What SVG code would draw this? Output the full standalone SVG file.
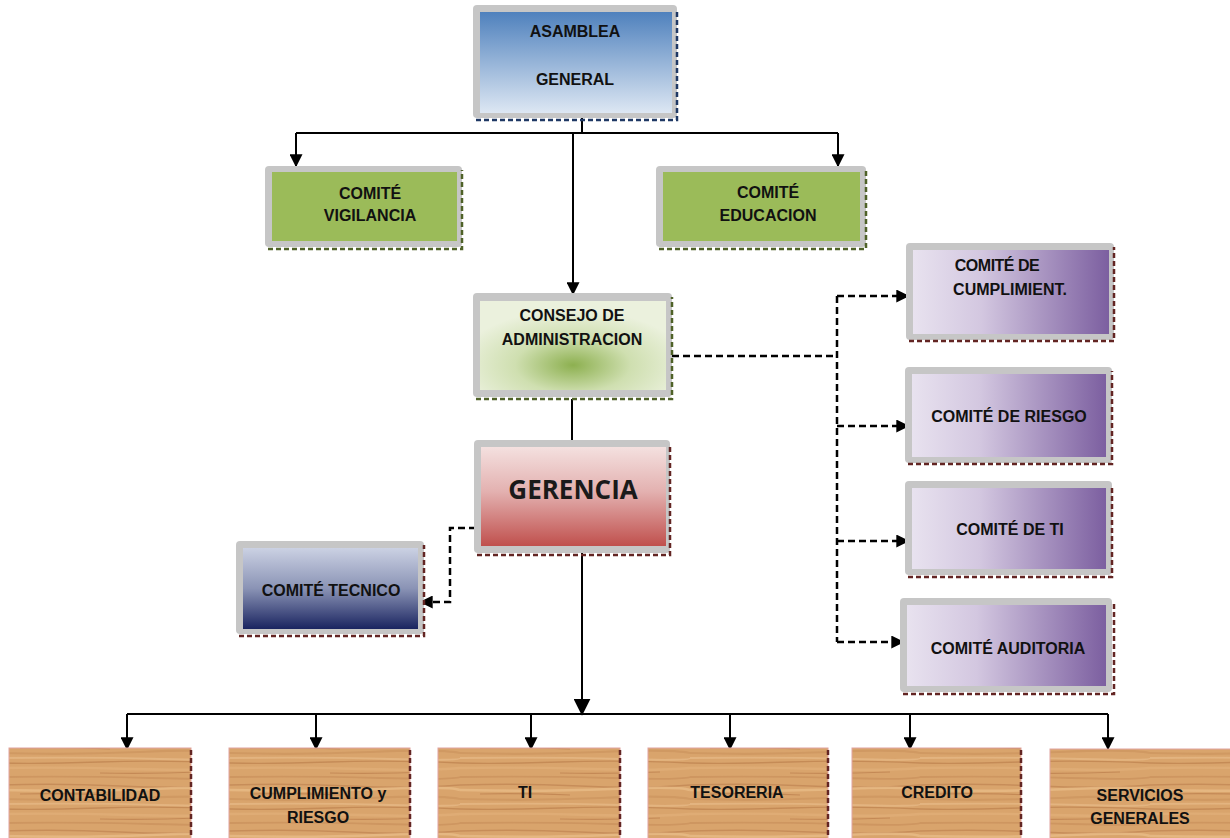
<svg xmlns="http://www.w3.org/2000/svg" width="1230" height="838" viewBox="0 0 1230 838">
<style>
.frame{fill:#c6c6c6}
.t{font-family:"Liberation Sans",Arial,sans-serif;font-weight:bold;font-size:16px;fill:#111;text-anchor:middle}
.tb{font-family:"Open Sans","Liberation Sans",sans-serif;font-weight:bold;font-size:26px;fill:#1a1a1a;text-anchor:middle}
.sh{fill:none;stroke-width:2.5;stroke-dasharray:5 3}
.sb{stroke:#1f3864}.sg{stroke:#4f6228}.sr{stroke:#632523}
.ln{fill:none;stroke:#000;stroke-width:2}
.dl{fill:none;stroke:#000;stroke-width:2.5;stroke-dasharray:7 4}
.wood{fill:url(#wood);stroke:#e0a3a0;stroke-width:1}
</style>
<defs>
<linearGradient id="gBlue" x1="0" y1="0" x2="0" y2="1"><stop offset="0" stop-color="#4f81bd"/><stop offset="1" stop-color="#dde7f3"/></linearGradient>
<radialGradient id="gGreen" cx="0.5" cy="0.72" r="0.62"><stop offset="0" stop-color="#8db050"/><stop offset="0.5" stop-color="#cfdfb0"/><stop offset="1" stop-color="#ebf1dd"/></radialGradient>
<linearGradient id="gRed" x1="0" y1="0" x2="0" y2="1"><stop offset="0" stop-color="#f4e0df"/><stop offset="0.45" stop-color="#e3b1b0"/><stop offset="1" stop-color="#c0504d"/></linearGradient>
<linearGradient id="gNavy" x1="0" y1="0" x2="0" y2="1"><stop offset="0" stop-color="#cbd1e3"/><stop offset="0.5" stop-color="#8a93b5"/><stop offset="1" stop-color="#1a2460"/></linearGradient>
<linearGradient id="gPurple" x1="0" y1="0" x2="1" y2="0"><stop offset="0" stop-color="#e8e2ef"/><stop offset="0.35" stop-color="#d3c7e0"/><stop offset="1" stop-color="#7c5fa0"/></linearGradient>
<pattern id="wood" patternUnits="userSpaceOnUse" width="230" height="46">
<rect width="230" height="46" fill="#d9a46c"/>
<path d="M0 3 Q60 1 120 4 T230 3" stroke="#c08452" stroke-width="1.6" fill="none" opacity="0.7"/>
<path d="M0 8 Q80 10 150 7 T230 8" stroke="#e8bb86" stroke-width="2.5" fill="none" opacity="0.8"/>
<path d="M20 12 Q60 11 110 13" stroke="#b57646" stroke-width="1.2" fill="none" opacity="0.6"/>
<path d="M0 17 Q70 19 140 16 T230 17" stroke="#c9915c" stroke-width="2.2" fill="none" opacity="0.6"/>
<path d="M0 22 Q90 21 160 23 T230 22" stroke="#e6b884" stroke-width="1.8" fill="none" opacity="0.8"/>
<path d="M0 27 Q40 28 100 26 T230 27" stroke="#b87a48" stroke-width="1.3" fill="none" opacity="0.6"/>
<path d="M0 32 Q60 31 130 33 T230 32" stroke="#e2b07a" stroke-width="2.4" fill="none" opacity="0.7"/>
<path d="M100 37 Q150 38 200 36" stroke="#b57646" stroke-width="1.2" fill="none" opacity="0.6"/>
<path d="M0 41 Q80 40 150 42 T230 41" stroke="#c68c58" stroke-width="1.8" fill="none" opacity="0.6"/>
</pattern>
<marker id="ah" viewBox="0 0 10 10" refX="9" refY="5" markerWidth="13" markerHeight="13" orient="auto" markerUnits="userSpaceOnUse"><path d="M0 0 L10 5 L0 10 z" fill="#000"/></marker>
<marker id="ahb" viewBox="0 0 10 10" refX="9" refY="5" markerWidth="17" markerHeight="17" orient="auto" markerUnits="userSpaceOnUse"><path d="M0 0 L10 5 L0 10 z" fill="#000"/></marker>
</defs>
<rect width="1230" height="838" fill="#fff"/>

<g id="connectors">
<path class="ln" d="M582 118 V133"/>
<path class="ln" d="M296 133 H838"/>
<path class="ln" d="M296 133 V166" marker-end="url(#ah)"/>
<path class="ln" d="M838 133 V166" stroke-width="3" marker-end="url(#ah)"/>
<path class="ln" d="M573 133 V294" marker-end="url(#ah)"/>
<path class="ln" d="M572 399 V440" stroke-width="1.2"/>
<path class="dl" d="M672 356 H837"/>
<path class="dl" d="M837 296 V642"/>
<path class="dl" d="M837 296 H908" marker-end="url(#ah)"/>
<path class="dl" d="M837 426 H908" marker-end="url(#ah)"/>
<path class="dl" d="M837 541 H908" marker-end="url(#ah)"/>
<path class="dl" d="M837 642 H903" marker-end="url(#ah)"/>
<path class="dl" d="M476 528 H450 V602 H421" marker-end="url(#ah)"/>
<path class="ln" d="M582 553 V714" stroke-width="4" marker-end="url(#ahb)"/>
<path class="ln" d="M127 714 H1108"/>
<path class="ln" d="M127 714 V749" marker-end="url(#ah)"/>
<path class="ln" d="M316 714 V749" marker-end="url(#ah)"/>
<path class="ln" d="M531 714 V749" marker-end="url(#ah)"/>
<path class="ln" d="M730 714 V749" marker-end="url(#ah)"/>
<path class="ln" d="M910 714 V749" marker-end="url(#ah)"/>
<path class="ln" d="M1108 714 V749" marker-end="url(#ah)"/>
</g>

<g id="asamblea">
<rect class="frame" x="473" y="5" width="204" height="113" rx="4"/>
<rect x="480" y="12" width="192" height="101" fill="url(#gBlue)"/>
<path class="sh sb" d="M476 120 H677 V12"/>
<text class="t" x="575" y="37">ASAMBLEA</text>
<text class="t" x="575" y="85">GENERAL</text>
</g>

<g id="vigilancia">
<rect class="frame" x="265" y="166" width="197" height="81" rx="4"/>
<rect x="272" y="172" width="185" height="69" fill="#9bbb59"/>
<path class="sh sg" d="M268 249 H462 V170"/>
<text class="t" x="370" y="199">COMITÉ</text>
<text class="t" x="370" y="221">VIGILANCIA</text>
</g>

<g id="educacion">
<rect class="frame" x="656" y="166" width="210" height="81" rx="4"/>
<rect x="663" y="172" width="197" height="69" fill="#9bbb59"/>
<path class="sh sg" d="M659 249 H866 V170"/>
<text class="t" x="768" y="198">COMITÉ</text>
<text class="t" x="768" y="221">EDUCACION</text>
</g>

<g id="consejo">
<rect class="frame" x="473" y="293" width="199" height="104" rx="4"/>
<rect x="480" y="301" width="186" height="89" fill="url(#gGreen)"/>
<path class="sh sg" d="M476 399 H672 V297"/>
<text class="t" x="572" y="321" font-size="15">CONSEJO DE</text>
<text class="t" x="572" y="345" font-size="15">ADMINISTRACION</text>
</g>

<g id="gerencia">
<rect class="frame" x="474" y="440" width="196" height="113" rx="4"/>
<rect x="481" y="447" width="185" height="99" fill="url(#gRed)"/>
<path class="sh sr" d="M477 555 H670 V445"/>
<text class="tb" x="573" y="499">GERENCIA</text>
</g>

<g id="tecnico">
<rect class="frame" x="236" y="541" width="188" height="93" rx="4"/>
<rect x="243" y="548" width="175" height="81" fill="url(#gNavy)"/>
<path class="sh sr" d="M239 636 H424 V545"/>
<text class="t" x="331" y="596">COMITÉ TECNICO</text>
</g>

<g id="cumplimiento-comite">
<rect class="frame" x="906" y="243" width="208" height="97" rx="4"/>
<rect x="913" y="250" width="196" height="84" fill="url(#gPurple)"/>
<path class="sh sr" d="M909 341 H1114 V247"/>
<text class="t" x="997" y="271" font-size="13" letter-spacing="-0.5">COMITÉ DE</text>
<text class="t" x="1010" y="295" font-size="14.5">CUMPLIMIENT.</text>
</g>

<g id="riesgo">
<rect class="frame" x="905" y="367" width="207" height="96" rx="4"/>
<rect x="912" y="374" width="194" height="83" fill="url(#gPurple)"/>
<path class="sh sr" d="M908 464 H1112 V371"/>
<text class="t" x="1009" y="422">COMITÉ DE RIESGO</text>
</g>

<g id="ti-comite">
<rect class="frame" x="905" y="481" width="207" height="94" rx="4"/>
<rect x="912" y="488" width="194" height="81" fill="url(#gPurple)"/>
<path class="sh sr" d="M908 577 H1112 V485"/>
<text class="t" x="1010" y="535">COMITÉ DE TI</text>
</g>

<g id="auditoria">
<rect class="frame" x="900" y="598" width="212" height="94" rx="4"/>
<rect x="907" y="605" width="199" height="81" fill="url(#gPurple)"/>
<path class="sh sr" d="M903 694 H1114 V601"/>
<text class="t" x="1008" y="654">COMITÉ AUDITORIA</text>
</g>

<g id="contabilidad">
<rect class="wood" x="9" y="748" width="182" height="92"/>
<path class="sh sr" d="M191 750 V838" stroke-width="1.5" stroke-dasharray="3 2"/>
<text class="t" x="100" y="801">CONTABILIDAD</text>
</g>
<g id="cumplimiento-riesgo">
<rect class="wood" x="229" y="748" width="181" height="92"/>
<path class="sh sr" d="M410 750 V838" stroke-width="1.5" stroke-dasharray="3 2"/>
<text class="t" x="318" y="799">CUMPLIMIENTO y</text>
<text class="t" x="318" y="823">RIESGO</text>
</g>
<g id="ti">
<rect class="wood" x="438" y="748" width="182" height="92"/>
<path class="sh sr" d="M620 750 V838" stroke-width="1.5" stroke-dasharray="3 2"/>
<text class="t" x="525" y="798">TI</text>
</g>
<g id="tesoreria">
<rect class="wood" x="648" y="748" width="180" height="92"/>
<path class="sh sr" d="M828 750 V838" stroke-width="1.5" stroke-dasharray="3 2"/>
<text class="t" x="737" y="798">TESORERIA</text>
</g>
<g id="credito">
<rect class="wood" x="852" y="748" width="169" height="92"/>
<path class="sh sr" d="M1021 750 V838" stroke-width="1.5" stroke-dasharray="3 2"/>
<text class="t" x="937" y="798">CREDITO</text>
</g>
<g id="servicios">
<rect class="wood" x="1050" y="749" width="182" height="92"/>
<text class="t" x="1140" y="801">SERVICIOS</text>
<text class="t" x="1140" y="824">GENERALES</text>
</g>
</svg>
